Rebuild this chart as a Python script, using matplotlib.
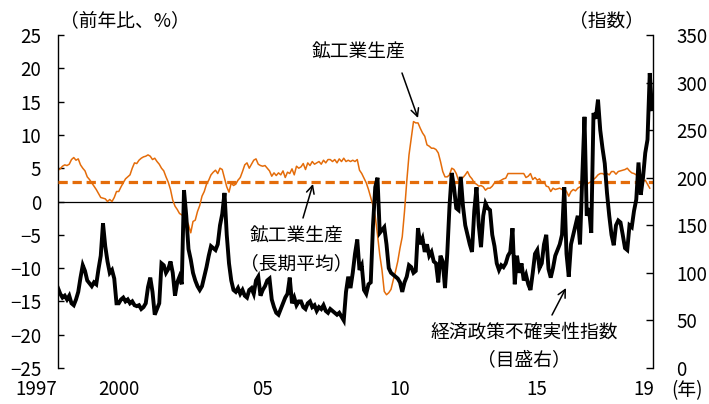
import numpy as np
import matplotlib
matplotlib.use("Agg")
import matplotlib.pyplot as plt
from matplotlib.transforms import blended_transform_factory

plt.rcParams['font.family'] = ['Noto Sans CJK JP', 'DejaVu Sans']
plt.rcParams['axes.unicode_minus'] = True

# Monthly series starting January 1997
start_year = 1997

# World mining & manufacturing production, y/y % change (left axis)
production_yoy = [
    4.7, 4.9, 5.3, 5.5, 5.4, 5.6, 6.3, 6.6, 6.2, 6.4, 5.5, 5.0,
    4.6, 3.7, 3.3, 2.8, 2.3, 1.8, 1.2, 0.6, 0.5, 0.4, 0.0, 0.3,
    0.0, 0.6, 1.5, 1.5, 2.2, 2.8, 3.4, 3.7, 4.0, 5.0, 5.8, 5.7,
    6.2, 6.5, 6.7, 6.8, 7.0, 6.8, 6.3, 6.5, 6.0, 5.6, 5.0, 4.6,
    3.7, 2.9, 1.8, 0.2, -0.7, -1.2, -1.8, -2.0, -2.3, -2.8, -3.5, -4.7,
    -3.0, -2.8, -1.5, -0.6, 0.8, 1.5, 2.6, 3.2, 4.0, 4.4, 4.7, 4.2,
    5.0, 4.8, 3.5, 2.2, 1.4, 2.8, 2.4, 2.6, 3.2, 3.6, 4.5, 5.5,
    5.8, 5.0, 5.6, 6.2, 6.4, 5.6, 5.4, 5.3, 5.4, 5.0, 4.6, 3.8,
    4.3, 3.9, 4.3, 4.0, 4.6, 3.6, 4.4, 4.2, 4.9, 4.0, 5.3, 5.0,
    5.2, 5.7, 4.8, 5.8, 5.4, 6.0, 5.6, 5.8, 6.0, 5.6, 6.2, 5.8,
    6.3, 6.3, 6.0, 6.3, 5.8, 6.4, 6.0, 6.5, 6.0, 6.2, 6.0, 6.2,
    6.0, 6.3, 4.7, 4.2, 3.5, 2.8, 1.8, 0.6, -0.6, -2.3, -5.0, -8.0,
    -10.3, -13.5, -14.0, -13.7, -13.2, -11.8, -10.5, -9.0, -7.0, -5.3, -1.5, 3.0,
    7.0, 9.5, 12.0, 11.8, 11.8, 11.0, 10.3, 9.8, 8.5, 8.3, 8.0, 8.0,
    7.8, 7.3, 6.0, 4.5, 3.7, 3.7, 4.0, 5.0, 4.8, 4.2, 3.2, 3.3,
    3.6, 4.0, 4.5, 3.8, 3.4, 2.8, 2.6, 2.3, 2.4, 2.2, 1.7, 2.0,
    2.0, 2.3, 2.8, 3.0, 3.0, 3.2, 3.4, 3.5, 4.2, 4.2, 4.2, 4.2,
    4.2, 4.2, 4.2, 4.2, 3.6, 3.8, 4.2, 3.3, 3.6, 3.2, 3.4, 2.8,
    3.0, 2.3, 2.2, 1.5, 2.0, 1.8, 1.9, 2.0, 1.8, 1.9, 1.5, 0.8,
    1.5, 1.8, 1.6, 2.0, 2.2, 2.4, 2.8, 2.6, 2.8, 3.0, 3.3, 3.6,
    4.0, 4.2, 4.2, 4.0, 4.2, 4.0, 4.5, 4.5, 4.1, 4.5, 4.6, 4.7,
    4.8, 5.0, 4.6, 4.3, 4.2, 4.0, 3.6, 3.2, 3.0, 3.2, 2.6, 2.0,
]

# Long-term average of the production growth rate
production_avg = 3.0

# Economic policy uncertainty index (right axis)
epu_index = [
    84, 78, 74, 76, 72, 76, 68, 66, 72, 80, 95, 108,
    102, 92, 89, 86, 90, 88, 104, 118, 152, 128, 112, 100,
    103, 94, 68, 68, 72, 74, 70, 72, 68, 70, 66, 65,
    66, 62, 64, 68, 85, 95, 80, 56, 62, 68, 110, 108,
    100, 104, 112, 100, 76, 90, 96, 88, 187, 160, 125, 114,
    100, 92, 86, 82, 86, 96, 106, 118, 128, 126, 124, 130,
    150, 162, 184, 140, 110, 92, 82, 80, 84, 78, 82, 76,
    74, 82, 84, 78, 92, 96, 76, 82, 86, 92, 94, 72,
    64, 58, 56, 62, 68, 74, 78, 95, 68, 74, 66, 70,
    70, 64, 62, 68, 70, 64, 66, 60, 64, 62, 66, 60,
    58, 62, 60, 58, 56, 58, 54, 50, 80, 96, 84, 100,
    120, 135, 103, 108, 82, 78, 88, 90, 150, 190, 200, 142,
    145, 148, 130, 105, 100, 98, 96, 94, 90, 80, 90, 96,
    108, 106, 100, 102, 147, 130, 136, 122, 130, 118, 122, 112,
    110, 90, 118, 112, 84, 120, 170, 205, 190, 168, 166, 201,
    170, 150, 140, 130, 122, 165, 190, 150, 127, 160, 173, 168,
    166, 140, 128, 110, 103, 108, 106, 110, 118, 122, 147, 88,
    118, 100, 110, 92, 98, 88, 82, 100, 120, 124, 105, 110,
    130, 140, 104, 95, 105, 118, 124, 130, 140, 190, 120, 96,
    130, 140, 150, 160, 130, 200, 264, 160, 168, 142, 268, 262,
    282, 250, 231, 215, 184, 160, 140, 129, 150, 155, 153, 140,
    126, 124, 150, 148, 165, 177, 216, 182, 200, 226, 240, 310,
    272,
]

x_labels = ["1997", "2000", "05", "10", "15", "19"]
x_label_pos = [1996.19, 1999.26, 2004.59, 2009.67, 2014.74, 2018.70]

left_ticks = [25, 20, 15, 10, 5, 0, -5, -10, -15, -20, -25]
right_ticks = [0, 50, 100, 150, 200, 250, 300, 350]

orange = "#E46C0A"
fs = 13.5

t_prod = start_year + np.arange(len(production_yoy)) / 12.0
t_epu = start_year + np.arange(len(epu_index)) / 12.0

W, H = 709, 404
fig = plt.figure(figsize=(W / 100, H / 100), dpi=100)
ax = fig.add_axes([58 / W, 1 - 368 / H, (653 - 58) / W, (368 - 35) / H])
ax.set_xlim(1997.0, 1997.0 + 595 / 27.0)
ax.set_ylim(-25, 25)

ax.axhline(0, color="black", lw=0.9, zorder=1)
ax.plot(t_prod, production_yoy, color=orange, lw=1.1, zorder=2)
ax.axhline(production_avg, color=orange, lw=2.3, linestyle=(0, (2.9, 1.5)), zorder=3)

for s in ("top", "bottom"):
    ax.spines[s].set_visible(False)
ax.spines["left"].set_linewidth(1.0)
ax.spines["right"].set_visible(False)
ax.set_yticks(left_ticks)
ax.set_yticklabels([str(v).replace("-", "\u2212") for v in left_ticks], fontsize=fs)
ax.tick_params(axis="y", direction="in", length=4, width=1.0, pad=12)
ax.set_xticks([])

ax2 = ax.twinx()
ax2.set_ylim(0, 350)
ax2.plot(t_epu, epu_index, color="black", lw=2.8, solid_joinstyle="miter", zorder=5)
for s in ("top", "bottom", "left"):
    ax2.spines[s].set_visible(False)
ax2.spines["right"].set_linewidth(1.0)
ax2.set_yticks(right_ticks)
ax2.set_yticklabels([str(v) for v in right_ticks], fontsize=fs)
ax2.tick_params(axis="y", direction="in", length=5, width=1.0, pad=17)

# Year labels under the plot
trans = blended_transform_factory(ax.transData, ax.transAxes)
for lab, pos in zip(x_labels, x_label_pos):
    ax.text(pos, -0.066, lab, transform=trans, ha="center", va="center",
            fontsize=fs, clip_on=False)
fig.text(687 / W, 1 - 391 / H, "(年)", ha="center", va="center", fontsize=fs)

# Unit labels
fig.text(125 / W, 1 - 21 / H, "（前年比、%）", ha="center", va="center", fontsize=fs)
fig.text(607 / W, 1 - 21 / H, "（指数）", ha="center", va="center", fontsize=fs)

# Annotations
def px(x, y):
    return (x / W, 1 - y / H)

arrow = dict(arrowstyle="->", color="black", lw=1.1, shrinkA=0, shrinkB=0,
             mutation_scale=14)
fig.text(358 / W, 1 - 52 / H, "鉱工業生産", ha="center", va="center", fontsize=fs)
ax.annotate("", xy=px(418, 118), xytext=px(402, 73), xycoords="figure fraction",
            textcoords="figure fraction", arrowprops=arrow)

fig.text(296 / W, 1 - 250 / H, "鉱工業生産\n（長期平均）", ha="center", va="center",
         fontsize=fs, linespacing=1.45)
ax.annotate("", xy=px(313, 184), xytext=px(303, 218), xycoords="figure fraction",
            textcoords="figure fraction", arrowprops=arrow)

fig.text(524 / W, 1 - 346 / H, "経済政策不確実性指数\n（目盛右）", ha="center", va="center",
         fontsize=fs, linespacing=1.45)
ax.annotate("", xy=px(566, 288), xytext=px(552, 315), xycoords="figure fraction",
            textcoords="figure fraction", arrowprops=arrow)

fig.savefig("out.png", dpi=100)
